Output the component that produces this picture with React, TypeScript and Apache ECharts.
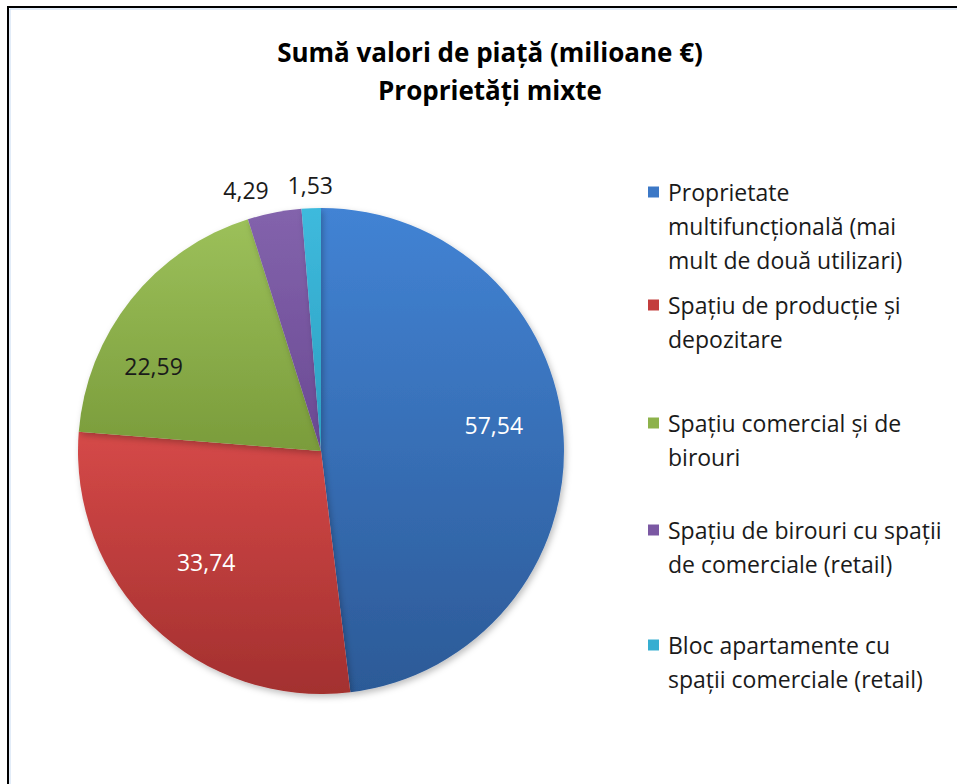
import React, { useEffect, useRef } from "react";
import * as echarts from "echarts";

const titleLines = ["Sumă valori de piață (milioane €)", "Proprietăți mixte"];

const categories = [
  "Proprietate multifuncțională (mai mult de două utilizari)",
  "Spațiu de producție și depozitare",
  "Spațiu comercial și de birouri",
  "Spațiu de birouri cu spații de comerciale (retail)",
  "Bloc apartamente cu spații comerciale (retail)",
];

const legendLines = [
  ["Proprietate", "multifuncțională (mai", "mult de două utilizari)"],
  ["Spațiu de producție și", "depozitare"],
  ["Spațiu comercial și de", "birouri"],
  ["Spațiu de birouri cu spații", "de comerciale (retail)"],
  ["Bloc apartamente cu", "spații comerciale (retail)"],
];

const values = [57.54, 33.74, 22.59, 4.29, 1.53];

const topColors = ["#4283D4", "#D54948", "#9CC05A", "#8363AC", "#3EBADD"];
const bottomColors = ["#2C5A97", "#A3302F", "#7A9C3B", "#6A4993", "#2C9FC0"];
const legendColors = ["#3C78C6", "#C33E3D", "#8DB24B", "#7B58A3", "#36AED1"];
const labelColors = ["#ffffff", "#ffffff", "#1a1a1a", "#1a1a1a", "#1a1a1a"];
// small nudges that mimic the spreadsheet's "best fit" label placement
const labelNudges = [
  [0, -16],
  [5, -14],
  [-32, 23],
  [-24, 0],
  [0, 0],
];

const FONT = "'Open Sans', Lato, sans-serif";
const LINE_H = 34;
const legendFirstLineY = [192, 305, 423, 530, 645];

const fmt = (v: number) => v.toFixed(2).replace(".", ",");

function iconPath(lines: number): string {
  const h = lines * LINE_H;
  const t = LINE_H / 2 - 5.5;
  return `path://M0,0L0,0M15,${h}L15,${h}M0,${t}L11,${t}L11,${t + 11}L0,${t + 11}Z`;
}

export default function App() {
  const ref = useRef<HTMLDivElement>(null);

  useEffect(() => {
    if (!ref.current) return;
    const chart = echarts.init(ref.current, undefined, { renderer: "svg" });

    const R = 243;
    const center = [321, 451];

    const mainData = values.map((v, i) => ({
      name: categories[i],
      value: v,
      itemStyle: {
        color: new echarts.graphic.LinearGradient(0, 0, 0, 1, [
          { offset: 0, color: topColors[i] },
          { offset: 1, color: bottomColors[i] },
        ]),
      },
    }));

    const labelData = (inner: boolean) =>
      values.map((v, i) => ({
        name: categories[i],
        value: v,
        label: {
          show: inner ? i < 3 : i >= 3,
          color: labelColors[i],
        },
      }));

    const nudge = (p: any) => {
      const n = labelNudges[p.dataIndex] || [0, 0];
      return { dx: n[0], dy: n[1] };
    };

    const labelStyle = {
      position: "inside",
      formatter: (p: any) => fmt(p.value),
      fontFamily: FONT,
      fontSize: 23,
    };

    const option: any = {
      animation: false,
      backgroundColor: "#ffffff",
      graphic: [
        {
          type: "rect",
          shape: { x: 8, y: 7, width: 2000, height: 2000 },
          style: { fill: "none", stroke: "#000000", lineWidth: 2 },
          silent: true,
        },
        {
          type: "rect",
          shape: { x: 10, y: 9, width: 2000, height: 2000 },
          style: { fill: "none", stroke: "#C6D9F1", lineWidth: 1 },
          silent: true,
        },
        {
          type: "text",
          x: 490,
          y: 71,
          style: {
            text: titleLines.join("\n"),
            align: "center",
            verticalAlign: "middle",
            fontFamily: FONT,
            fontWeight: "bold",
            fontSize: 26,
            lineHeight: 38,
            fill: "#000000",
          },
        },
      ],
      legend: legendLines.map((lines, i) => ({
        data: [{ name: categories[i], icon: iconPath(lines.length) }],
        left: 648,
        top: legendFirstLineY[i] - LINE_H / 2,
        orient: "vertical",
        padding: 0,
        itemWidth: 15,
        itemHeight: lines.length * LINE_H,
        symbolKeepAspect: false,
        selectedMode: false,
        itemStyle: { color: legendColors[i], borderWidth: 0, shadowBlur: 0 },
        formatter: () => lines.join("\n"),
        textStyle: {
          fontFamily: FONT,
          fontSize: 23,
          lineHeight: LINE_H,
          color: "#1a1a1a",
        },
      })),
      series: [
        {
          type: "pie",
          center,
          radius: R,
          startAngle: 90,
          clockwise: true,
          label: { show: false },
          labelLine: { show: false },
          itemStyle: {
            borderWidth: 0,
            shadowBlur: 6,
            shadowOffsetX: 2,
            shadowOffsetY: 3,
            shadowColor: "rgba(0,0,0,0.25)",
          },
          emphasis: { disabled: true },
          silent: true,
          data: mainData,
        },
        {
          type: "pie",
          center,
          radius: [0, R * 1.4],
          startAngle: 90,
          clockwise: true,
          silent: true,
          itemStyle: { color: "rgba(0,0,0,0)" },
          emphasis: { disabled: true },
          labelLine: { show: false },
          label: labelStyle,
          labelLayout: nudge,
          data: labelData(true),
        },
        {
          type: "pie",
          center,
          radius: [R, R + 40],
          startAngle: 90,
          clockwise: true,
          silent: true,
          itemStyle: { color: "rgba(0,0,0,0)" },
          emphasis: { disabled: true },
          labelLine: { show: false },
          label: labelStyle,
          labelLayout: nudge,
          data: labelData(false),
        },
      ],
    };

    chart.setOption(option);
    return () => chart.dispose();
  }, []);

  return (
    <div
      ref={ref}
      style={{ position: "fixed", left: 0, top: 0, width: 957, height: 784 }}
    />
  );
}
